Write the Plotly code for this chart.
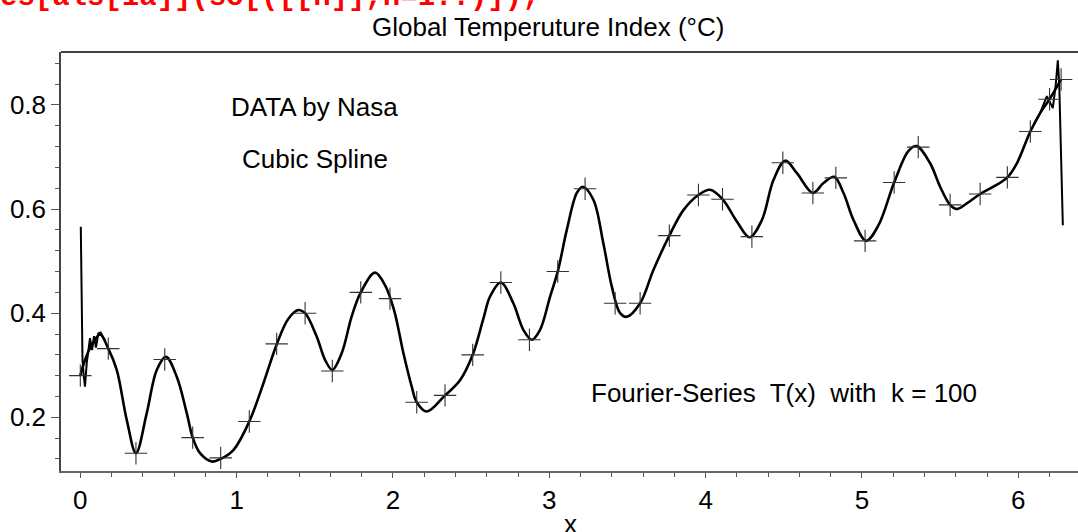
import plotly.graph_objects as go

# ---- data ----
data_x = [0.0, 0.179, 0.356, 0.54, 0.719, 0.898, 1.081, 1.256, 1.438, 1.612, 1.794, 1.981,
          2.152, 2.333, 2.51, 2.69, 2.873, 3.054, 3.229, 3.421, 3.581, 3.768, 3.954, 4.108,
          4.296, 4.494, 4.686, 4.833, 5.02, 5.206, 5.36, 5.564, 5.756, 5.93, 6.077, 6.2, 6.274]
data_y = [0.280, 0.332, 0.131, 0.311, 0.161, 0.122, 0.192, 0.341, 0.400, 0.289, 0.440, 0.428,
          0.229, 0.242, 0.320, 0.459, 0.349, 0.480, 0.639, 0.419, 0.419, 0.549, 0.627, 0.619,
          0.547, 0.689, 0.631, 0.660, 0.539, 0.651, 0.719, 0.608, 0.629, 0.661, 0.749, 0.811, 0.849]

spline_x = [0.0, 0.03, 0.073, 0.126, 0.179, 0.233, 0.297, 0.356, 0.425, 0.489, 0.548, 0.617,
            0.681, 0.719, 0.766, 0.841, 0.898, 0.979, 1.081, 1.171, 1.256, 1.33, 1.395, 1.438,
            1.512, 1.566, 1.612, 1.672, 1.736, 1.794, 1.885, 1.949, 2.007, 2.067, 2.12, 2.152,
            2.216, 2.333, 2.429, 2.51, 2.578, 2.621, 2.69, 2.77, 2.834, 2.888, 2.941, 3.005,
            3.054, 3.112, 3.176, 3.214, 3.282, 3.346, 3.4, 3.453, 3.496, 3.581, 3.666, 3.768,
            3.858, 3.954, 4.029, 4.108, 4.2, 4.281, 4.36, 4.434, 4.509, 4.584, 4.686, 4.754,
            4.822, 4.882, 4.946, 5.027, 5.106, 5.206, 5.298, 5.351, 5.436, 5.5, 5.564, 5.607,
            5.671, 5.756, 5.841, 5.93, 5.991, 6.077, 6.139, 6.2, 6.274]
spline_y = [0.280, 0.310, 0.339, 0.359, 0.332, 0.291, 0.195, 0.131, 0.208, 0.291, 0.316, 0.278,
            0.208, 0.161, 0.131, 0.115, 0.120, 0.137, 0.192, 0.265, 0.340, 0.389, 0.406, 0.400,
            0.355, 0.310, 0.291, 0.323, 0.394, 0.440, 0.478, 0.454, 0.406, 0.323, 0.259, 0.229,
            0.211, 0.242, 0.271, 0.320, 0.389, 0.432, 0.459, 0.419, 0.368, 0.349, 0.368, 0.432,
            0.480, 0.560, 0.631, 0.643, 0.618, 0.534, 0.451, 0.400, 0.393, 0.419, 0.483, 0.549,
            0.598, 0.627, 0.637, 0.619, 0.576, 0.546, 0.579, 0.656, 0.693, 0.669, 0.631, 0.650,
            0.662, 0.631, 0.579, 0.539, 0.569, 0.651, 0.712, 0.721, 0.688, 0.643, 0.608, 0.600,
            0.611, 0.629, 0.643, 0.661, 0.688, 0.749, 0.784, 0.811, 0.849]

fourier_head_x = [0.003, 0.008, 0.014, 0.022, 0.030, 0.041, 0.062, 0.075, 0.088, 0.100, 0.115, 0.130, 0.160]
fourier_head_y = [0.566, 0.450, 0.310, 0.280, 0.259, 0.304, 0.352, 0.329, 0.356, 0.334, 0.361, 0.363, 0.347]

fourier_tail_x = [6.10, 6.14, 6.183, 6.221, 6.24, 6.253, 6.262, 6.272, 6.285]
fourier_tail_y = [0.762, 0.785, 0.817, 0.794, 0.84, 0.886, 0.84, 0.70, 0.569]

x_range = [-0.1235, 6.382]
y_range = [0.0968, 0.9018]

FONT = "Liberation Sans, Arial, Helvetica, sans-serif"

fig = go.Figure()
fig.add_trace(go.Scatter(x=spline_x, y=spline_y, mode="lines",
                         line=dict(color="black", width=2.6, shape="spline", smoothing=1.0),
                         hoverinfo="skip", showlegend=False))
fig.add_trace(go.Scatter(x=fourier_head_x, y=fourier_head_y, mode="lines",
                         line=dict(color="black", width=2), hoverinfo="skip", showlegend=False))
fig.add_trace(go.Scatter(x=fourier_tail_x, y=fourier_tail_y, mode="lines",
                         line=dict(color="black", width=2), hoverinfo="skip", showlegend=False))
fig.add_trace(go.Scatter(x=data_x, y=data_y, mode="markers",
                         marker=dict(symbol="cross-thin", size=16, color="#333",
                                     line=dict(color="#333", width=1.1)),
                         hoverinfo="skip", showlegend=False))

L, R, T, B = 61, 0, 52, 61
W, H = 1078, 532
pw, ph = W - L - R, H - T - B


def px2paper(px, py):
    return (px - L) / pw, (H - B - py) / ph


annos = []
for txt, px, py, fnt, col, anchor in [
    ("Global Temperuture Index (°C)", 547.5, 26.5, 26, "black", "center"),
    ("DATA by Nasa", 314, 107, 26, "black", "center"),
    ("Cubic Spline", 315, 159, 26, "black", "center"),
    ("Fourier-Series\u00a0 T(x)\u00a0 with\u00a0 k = 100", 784, 392.5, 26, "black", "center"),
    ("x", 570, 524, 26, "black", "center"),
]:
    xp, yp = px2paper(px, py)
    annos.append(dict(text=txt, x=xp, y=yp, xref="paper", yref="paper", showarrow=False,
                      xanchor=anchor, yanchor="middle",
                      font=dict(family=FONT, size=fnt, color=col)))

xp, yp = px2paper(-2, -3)
annos.append(dict(text="<b>es[als[1a]](so[([[n]],n=1..)]);</b>", x=xp, y=yp, xref="paper", yref="paper",
                  showarrow=False, xanchor="left", yanchor="middle",
                  font=dict(family="Liberation Mono, Courier New, monospace", size=29, color="#ff0000")))

fig.update_layout(
    width=W, height=H,
    margin=dict(l=L, r=R, t=T, b=B, pad=0),
    paper_bgcolor="white", plot_bgcolor="white",
    font=dict(family=FONT, size=26, color="black"),
    annotations=annos,
    shapes=[dict(type="line", xref="paper", yref="paper", x0=0, x1=1, y0=1, y1=1,
                 line=dict(color="black", width=1.5))],
    xaxis=dict(range=x_range, showgrid=False, zeroline=False, showline=True,
               linecolor="#666", linewidth=1.5, ticks="outside", ticklen=5, tickwidth=1.2,
               tickcolor="#555", tick0=0, dtick=1,
               tickfont=dict(family=FONT, size=26, color="black"),
               minor=dict(dtick=0.2, tick0=0, ticks="outside", ticklen=4, tickcolor="#555", tickwidth=1)),
    yaxis=dict(range=y_range, showgrid=False, zeroline=False, showline=True,
               linecolor="#444", linewidth=1.5, ticks="outside", ticklen=8, tickwidth=1.2,
               tickcolor="#555", tick0=0, dtick=0.2, tickformat=".1f",
               tickfont=dict(family=FONT, size=26, color="black"),
               minor=dict(dtick=0.04, tick0=0, ticks="outside", ticklen=4, tickcolor="#555", tickwidth=1)),
)

fig.write_html("out.html", config={"displayModeBar": False},
               post_script="document.body.style.margin='0px';document.body.style.overflow='hidden';")
